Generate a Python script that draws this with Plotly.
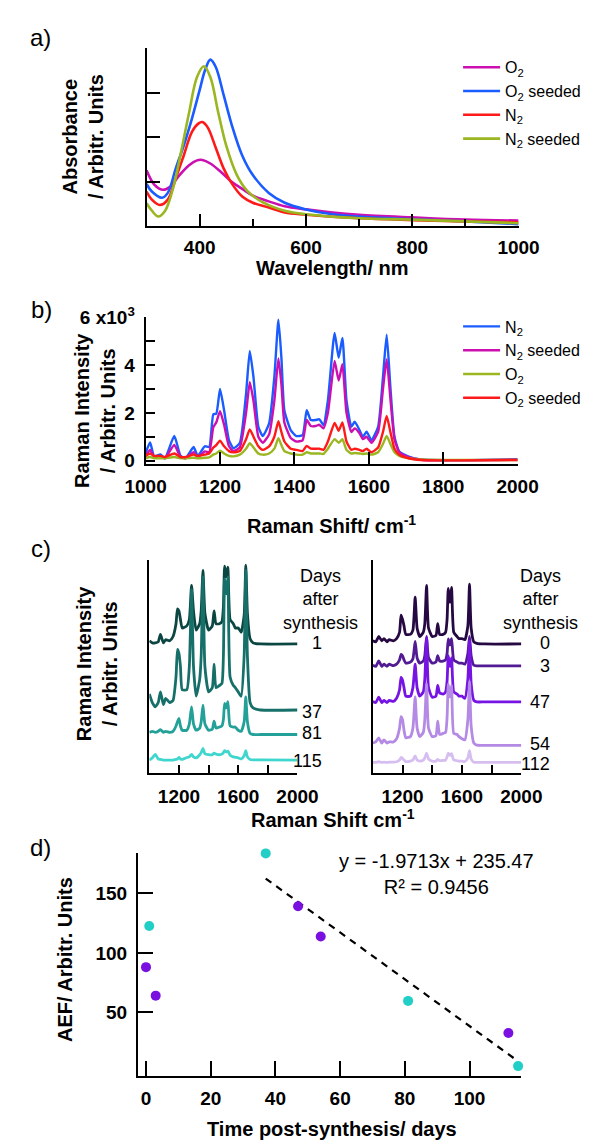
import plotly.graph_objects as go

FONT = "Liberation Sans, Arial, sans-serif"
W, H = 600, 1148

# ---------------- panel a: UV-vis absorbance ----------------
a_o2_x = [300, 315, 330, 345, 360, 380, 395, 405, 420, 440, 460, 480, 500, 530, 560, 600, 650, 700, 800, 900, 1000]
a_o2_y = [1.26, 0.93, 0.82, 0.89, 1.12, 1.37, 1.48, 1.49, 1.41, 1.22, 1.00, 0.84, 0.69, 0.56, 0.45, 0.38, 0.31, 0.26, 0.20, 0.15, 0.13]
a_o2s_x = [300, 310, 329, 340, 355, 370, 385, 400, 410, 420, 430, 445, 460, 480, 500, 530, 560, 600, 650, 700, 800, 900, 1000]
a_o2s_y = [0.95, 0.78, 0.64, 0.75, 1.30, 1.81, 2.40, 3.06, 3.50, 3.74, 3.58, 2.95, 2.29, 1.59, 1.15, 0.75, 0.53, 0.38, 0.27, 0.22, 0.16, 0.11, 0.05]
a_n2_x = [300, 310, 325, 340, 355, 370, 385, 398, 405, 415, 430, 445, 460, 480, 500, 530, 560, 600, 700, 800, 900, 1000]
a_n2_y = [0.78, 0.60, 0.48, 0.60, 1.08, 1.59, 2.11, 2.31, 2.34, 2.22, 1.77, 1.30, 0.97, 0.67, 0.53, 0.42, 0.31, 0.26, 0.18, 0.14, 0.11, 0.09]
a_n2s_x = [300, 310, 322, 335, 350, 365, 380, 395, 408, 420, 435, 450, 470, 490, 520, 560, 600, 700, 800, 1000]
a_n2s_y = [0.52, 0.35, 0.22, 0.35, 0.86, 1.67, 2.55, 3.35, 3.59, 3.35, 2.55, 1.81, 1.15, 0.79, 0.53, 0.35, 0.27, 0.18, 0.15, 0.07]

# ---------------- panel b: Raman spectra (x10^3) ----------------
b_wn = [1000, 1012, 1023, 1040, 1052, 1077, 1094, 1107, 1129, 1140, 1159, 1171, 1182, 1190, 1200, 1211, 1224, 1236,
        1253, 1270, 1280, 1290, 1303, 1315, 1332, 1346, 1357, 1365, 1373, 1390, 1405, 1422, 1433, 1444, 1457, 1467,
        1478, 1490, 1508, 1519, 1529, 1540, 1553, 1562, 1575, 1584, 1594, 1607, 1625, 1638, 1648, 1658, 1669, 1682,
        1707, 1740, 1840, 2000]
b_n2 = [0.32, 0.76, 0.18, 0.26, 0.10, 1.03, 0.20, 0.10, 0.57, 0.20, 0.60, 0.57, 1.94, 1.97, 3.00, 2.10, 0.86, 0.52,
        0.73, 2.80, 4.59, 3.49, 1.42, 1.03, 1.56, 3.49, 5.90, 4.31, 2.10, 1.28, 1.03, 1.07, 2.11, 1.70, 1.70, 1.73,
        1.49, 2.52, 5.35, 4.31, 5.14, 2.52, 1.42, 1.63, 1.28, 1.00, 1.21, 0.86, 1.42, 3.49, 5.27, 3.07, 1.00, 0.38,
        0.17, 0.05, 0.02, 0.06]
b_n2s = [0.20, 0.45, 0.15, 0.15, 0.10, 0.66, 0.15, 0.10, 0.35, 0.15, 0.39, 0.35, 1.40, 1.60, 2.07, 1.50, 0.60, 0.40,
         0.55, 2.00, 3.28, 2.50, 1.00, 0.75, 1.10, 2.50, 4.28, 3.20, 1.60, 0.95, 0.80, 0.85, 1.70, 1.45, 1.45, 1.50,
         1.35, 2.00, 4.17, 3.35, 4.04, 2.00, 1.20, 1.35, 1.15, 0.90, 1.00, 0.75, 1.20, 3.00, 4.25, 2.60, 0.90, 0.35,
         0.15, 0.04, 0.01, 0.04]
b_o2 = [0.10, 0.15, 0.10, 0.10, 0.10, 0.15, 0.10, 0.10, 0.12, 0.10, 0.12, 0.14, 0.25, 0.30, 0.42, 0.30, 0.20, 0.18,
        0.25, 0.50, 0.73, 0.55, 0.30, 0.25, 0.30, 0.50, 0.94, 0.65, 0.40, 0.30, 0.25, 0.25, 0.35, 0.30, 0.30, 0.30,
        0.28, 0.50, 0.90, 0.75, 0.90, 0.45, 0.30, 0.32, 0.30, 0.28, 0.30, 0.25, 0.35, 0.70, 1.03, 0.70, 0.35, 0.20,
        0.10, 0.05, 0.03, 0.03]
b_o2s = [0.20, 0.30, 0.20, 0.20, 0.15, 0.30, 0.15, 0.15, 0.25, 0.20, 0.25, 0.30, 0.55, 0.65, 0.84, 0.60, 0.40, 0.35,
         0.40, 0.90, 1.31, 1.00, 0.60, 0.45, 0.60, 1.00, 1.65, 1.20, 0.80, 0.50, 0.45, 0.40, 0.62, 0.50, 0.50, 0.50,
         0.45, 0.80, 1.58, 1.25, 1.60, 0.80, 0.45, 0.50, 0.45, 0.40, 0.50, 0.35, 0.55, 1.20, 1.87, 1.20, 0.50, 0.25,
         0.10, 0.03, 0.01, 0.03]

# ---------------- panel c: spectra vs. age (offset, arb.) ----------------
c_wn = [1000, 1020, 1040, 1060, 1075, 1095, 1110, 1138, 1160, 1180, 1190, 1200, 1210, 1222, 1253, 1270, 1285, 1298,
        1316, 1340, 1350, 1362, 1375, 1400, 1425, 1437, 1450, 1473, 1490, 1500, 1508, 1519, 1530, 1545, 1567, 1580,
        1600, 1620, 1640, 1651, 1662, 1680, 1700, 1750, 2000]
cl_day1 = [62, 61, 61, 61.5, 65, 61, 62.5, 62, 64, 70, 77, 76, 72, 68, 69, 72, 88, 76, 67, 70, 76, 95, 75, 67, 69, 76,
           70, 70, 71, 78, 97, 92, 96.5, 72, 70, 68, 68, 66, 74, 97.5, 75, 63, 61, 60.5, 60.5]
cl_day37 = [37, 33, 31, 33, 38, 32, 35, 33, 34, 45, 58, 56, 50, 39, 39, 50, 86, 50, 36, 44, 55, 92, 50, 38, 40, 51, 40,
            41, 42, 55, 91, 84, 92, 45, 41, 40, 38, 36, 55, 95, 55, 33, 30.5, 29.5, 29.5]
cl_day81 = [19, 19.5, 19, 19.5, 20.3, 19, 19.5, 19, 19.5, 22, 24, 25.6, 22, 20, 20, 23, 31, 23, 20, 21, 24, 31.8, 23, 20,
            20.5, 24.3, 21, 21.5, 22, 25, 32.6, 30.5, 33.4, 22, 21.5, 21.5, 20, 19.5, 24, 35.7, 24, 18.5, 18, 18, 18]
cl_day115 = [6, 7, 8.7, 6.5, 6.3, 6, 6, 6, 6, 6.3, 6.5, 7.3, 6.5, 6.3, 7.2, 7.5, 8.7, 7.5, 7, 8.5, 9.5, 11.5, 9, 8.5,
             8.5, 9.2, 8.8, 8.5, 8.8, 9.5, 10.4, 9.8, 10.2, 8.3, 7.5, 7.3, 7, 6.5, 8, 10.4, 7.5, 6.3, 6.1, 6.1, 6]
cr_day0 = [62, 61.5, 64, 62, 63, 61.5, 62.5, 62, 63, 66, 74, 72, 69, 65, 65, 67, 82.5, 68, 64, 66, 70, 88, 68, 64, 64.5,
           70, 65, 65, 66, 72, 86.6, 80, 87, 66, 64, 63, 63, 62.5, 69, 88.6, 68, 61.5, 60.8, 60.5, 60.5]
cr_day3 = [50.5, 50, 52.5, 50, 51, 50, 51, 50.3, 51, 53, 55.6, 55, 53, 51.5, 52, 53.5, 61.7, 54, 51.5, 52.5, 55, 64, 54,
           51.5, 52, 55, 52.5, 52.5, 53, 56, 62.9, 60, 63, 53, 52, 51.5, 51.5, 51, 56, 64, 55, 50.5, 50.2, 50.2, 50.2]
cr_day47 = [33.5, 33, 35.5, 33, 34, 33, 34, 33.5, 35, 39, 44.8, 43.5, 40, 36, 36, 40, 51, 40, 36, 38, 44, 63.3, 40, 35.5,
            36, 41, 37.5, 37, 38, 43, 55, 50, 54, 38, 37, 36, 36, 35, 44, 62, 42, 34, 33.3, 33.3, 33.3]
cr_day54 = [14, 14.5, 16.4, 14, 15.5, 14, 14.5, 14.5, 16, 21, 26.4, 25, 20, 16.5, 17, 21, 35.6, 21, 17, 19, 25, 41.7, 21,
            17, 17.5, 24.3, 18, 18.5, 19, 26, 41.7, 35.6, 41, 18.5, 18, 17, 16, 15.5, 25, 43, 22, 14, 13, 12.9, 12.9]
cr_day112 = [4.9, 4.9, 5.2, 4.9, 5, 4.9, 5, 5, 5.2, 6, 7.2, 6.8, 6, 5.3, 5.5, 6, 8, 6, 5.5, 6, 7, 9.2, 6.5, 5.5, 5.5,
             6.3, 5.7, 5.8, 6, 7.5, 9.2, 8.2, 9, 6, 5.7, 5.5, 5.5, 5.3, 7, 10.4, 6.5, 5, 4.9, 4.9, 4.9]
c_left_days = ["1", "37", "81", "115"]
c_right_days = ["0", "3", "47", "54", "112"]

# ---------------- panel d: AEF vs time ----------------
d_cyan_x = [1, 37, 81, 115]
d_cyan_y = [122.6, 183.7, 59.6, 4.7]
d_purple_x = [0, 3, 47, 54, 112]
d_purple_y = [88, 64, 139.3, 113.8, 32.5]
d_fit_x = [37, 115]
d_fit_y = [162.5, 8.8]

MAG = "#cc0fb0"
BLUE = "#1a5cff"
RED = "#ff1a1a"
GREEN = "#9ab620"
CYAN = "#22cfc6"
PURPLE = "#7a10e0"


def fx(p):
    return p / W


def fy(p):
    return 1 - p / H


fig = go.Figure()

# panel a
for xs, ys, nm, col in [(a_o2_x, a_o2_y, "O<sub>2</sub>", MAG),
                        (a_o2s_x, a_o2s_y, "O<sub>2</sub> seeded", BLUE),
                        (a_n2_x, a_n2_y, "N<sub>2</sub>", RED),
                        (a_n2s_x, a_n2s_y, "N<sub>2</sub> seeded", GREEN)]:
    fig.add_trace(go.Scatter(x=xs, y=ys, name=nm, mode="lines", xaxis="x", yaxis="y", legend="legend",
                             line=dict(color=col, width=2.6, shape="spline", smoothing=1)))

# panel b
for ys, nm, col in [(b_n2, "N<sub>2</sub>", BLUE), (b_n2s, "N<sub>2</sub> seeded", MAG),
                    (b_o2, "O<sub>2</sub>", GREEN), (b_o2s, "O<sub>2</sub> seeded", RED)]:
    fig.add_trace(go.Scatter(x=b_wn, y=ys, name=nm, mode="lines", xaxis="x2", yaxis="y2", legend="legend2",
                             line=dict(color=col, width=2.4, shape="spline", smoothing=0.5)))

# panel c
for ys, col in [(cl_day1, "#0b4642"), (cl_day37, "#167069"), (cl_day81, "#23a199"), (cl_day115, "#3fd6cd")]:
    fig.add_trace(go.Scatter(x=c_wn, y=ys, mode="lines", xaxis="x3", yaxis="y3", showlegend=False,
                             line=dict(color=col, width=2.8, shape="spline", smoothing=0.5)))
for ys, col in [(cr_day0, "#260942"), (cr_day3, "#521b94"), (cr_day47, "#7614e4"), (cr_day54, "#b48ae4"),
                (cr_day112, "#d6bef0")]:
    fig.add_trace(go.Scatter(x=c_wn, y=ys, mode="lines", xaxis="x4", yaxis="y4", showlegend=False,
                             line=dict(color=col, width=2.8, shape="spline", smoothing=0.5)))

# panel d
fig.add_trace(go.Scatter(x=d_fit_x, y=d_fit_y, mode="lines", xaxis="x5", yaxis="y5", showlegend=False,
                         line=dict(color="black", width=2.2, dash="7px,6px")))
fig.add_trace(go.Scatter(x=d_cyan_x, y=d_cyan_y, mode="markers", xaxis="x5", yaxis="y5", showlegend=False,
                         marker=dict(color=CYAN, size=10), cliponaxis=False))
fig.add_trace(go.Scatter(x=d_purple_x, y=d_purple_y, mode="markers", xaxis="x5", yaxis="y5", showlegend=False,
                         marker=dict(color=PURPLE, size=10), cliponaxis=False))

tickfont = dict(family=FONT, size=19, color="black", weight="bold")
base = dict(showline=True, linecolor="black", linewidth=2, ticks="inside", tickcolor="black", tickwidth=2,
            showgrid=False, zeroline=False, tickfont=tickfont, ticklabelstandoff=5)

legend_font = dict(family=FONT, size=16, color="black")

layout = dict(
    width=W, height=H, margin=dict(l=0, r=0, t=0, b=0),
    paper_bgcolor="white", plot_bgcolor="white",
    font=dict(family=FONT, color="black"),
    xaxis=dict(base, domain=[fx(135), fx(535)], range=[300, 1000], tickvals=[400, 600, 800, 1000], ticklen=12,
               ticklabelstandoff=3,
               minor=dict(tickvals=[500, 700, 900], ticks="inside", ticklen=7, tickwidth=2, tickcolor="black"),
               anchor="y"),
    yaxis=dict(base, domain=[fy(217.3), fy(35.7)], range=[0, 4], tickvals=[1, 2, 3, 4], ticklen=13,
               showticklabels=False, anchor="x"),
    xaxis2=dict(base, domain=[fx(134), fx(534)], range=[1000, 2000], tickvals=[1000, 1200, 1400, 1600, 1800, 2000],
                ticklen=12, anchor="y2"),
    yaxis2=dict(base, domain=[fy(459), fy(310)], range=[-0.124, 6.0], tickvals=[0, 2, 4, 6],
                ticktext=["0", "2", "4", "6 x10<sup>3</sup>"], ticklen=9,
                minor=dict(tickvals=[1, 3, 5], ticks="inside", ticklen=9, tickwidth=2, tickcolor="black"),
                anchor="x2"),
    xaxis3=dict(base, domain=[fx(138), fx(297.3)], range=[1000, 2000], tickvals=[1200, 1400, 1600, 1800, 2000],
                ticktext=["1200", "", "1600", "", "2000"], ticklen=8, anchor="y3"),
    yaxis3=dict(base, domain=[fy(774), fy(557)], range=[0, 100], ticks="", showticklabels=False, anchor="x3"),
    xaxis4=dict(base, domain=[fx(378.3), fx(538)], range=[1000, 2000], tickvals=[1200, 1400, 1600, 1800, 2000],
                ticktext=["1200", "", "1600", "", "2000"], ticklen=8, anchor="y4"),
    yaxis4=dict(base, domain=[fy(774), fy(557)], range=[0, 100], ticks="", showticklabels=False, anchor="x4"),
    xaxis5=dict(base, domain=[fx(125.7), fx(538)], range=[-2.5, 116], tickvals=[0, 20, 40, 60, 80, 100],
                ticklen=15, anchor="y5"),
    yaxis5=dict(base, domain=[fy(1082.3), fy(855.7)], range=[-3.2, 184], tickvals=[50, 100, 150], ticklen=15,
                anchor="x5"),
    legend=dict(x=fx(470), y=fy(38), xanchor="left", yanchor="top", bgcolor="rgba(0,0,0,0)", borderwidth=0,
                font=legend_font, itemwidth=37, tracegroupgap=0),
    legend2=dict(x=fx(470), y=fy(302), xanchor="left", yanchor="top", bgcolor="rgba(0,0,0,0)", borderwidth=0,
                 font=legend_font, itemwidth=37, tracegroupgap=0),
)

ann = []


def add_text(text, x, y, size=20, bold=False, angle=0, xanchor="center", yanchor="middle", align="center"):
    ann.append(dict(text=text, x=fx(x), y=fy(y), xref="paper", yref="paper", showarrow=False, textangle=angle,
                    xanchor=xanchor, yanchor=yanchor, align=align,
                    font=dict(family=FONT, size=size, color="black", weight="bold" if bold else "normal")))


# panel letters
add_text("a)", 21, 25, size=24)
add_text("b)", 22, 302, size=24)
add_text("c)", 22, 545, size=24)
add_text("d)", 21, 850, size=24)

# axis titles
add_text("Absorbance<br>/ Arbitr. Units", 66, 126, bold=True, angle=-90)
add_text("Wavelength/ nm", 335, 260, bold=True)
add_text("Raman Intensity<br>/ Arbitr. Units", 79, 405, bold=True, angle=-90)
add_text("Raman Shift/ cm<sup>-1</sup>", 334, 521, bold=True)
add_text("Raman Intensity<br>/ Arbitr. Units", 82, 663, bold=True, angle=-90)
add_text("Raman Shift cm<sup>-1</sup>", 335, 821, bold=True)
add_text("AEF/ Arbitr. Units", 48, 964, bold=True, angle=-90)
add_text("Time post-synthesis/ days", 334, 1137, bold=True)

# panel c day labels
add_text("Days<br>after<br>synthesis", 322, 597, size=18)
add_text("Days<br>after<br>synthesis", 559, 597, size=18)
for lab, yy in zip(c_left_days, [641.7, 711.7, 733.3, 761.7]):
    add_text(lab, 326, yy, size=18, xanchor="right")
for lab, yy in zip(c_right_days, [641.7, 665, 701.7, 745, 765]):
    add_text(lab, 571, yy, size=18, xanchor="right")

# panel d fit text
add_text("y = -1.9713x + 235.47<br>R² = 0.9456", 447, 877, size=20)

layout["annotations"] = ann
fig.update_layout(**layout)
fig.write_html("out.html")
